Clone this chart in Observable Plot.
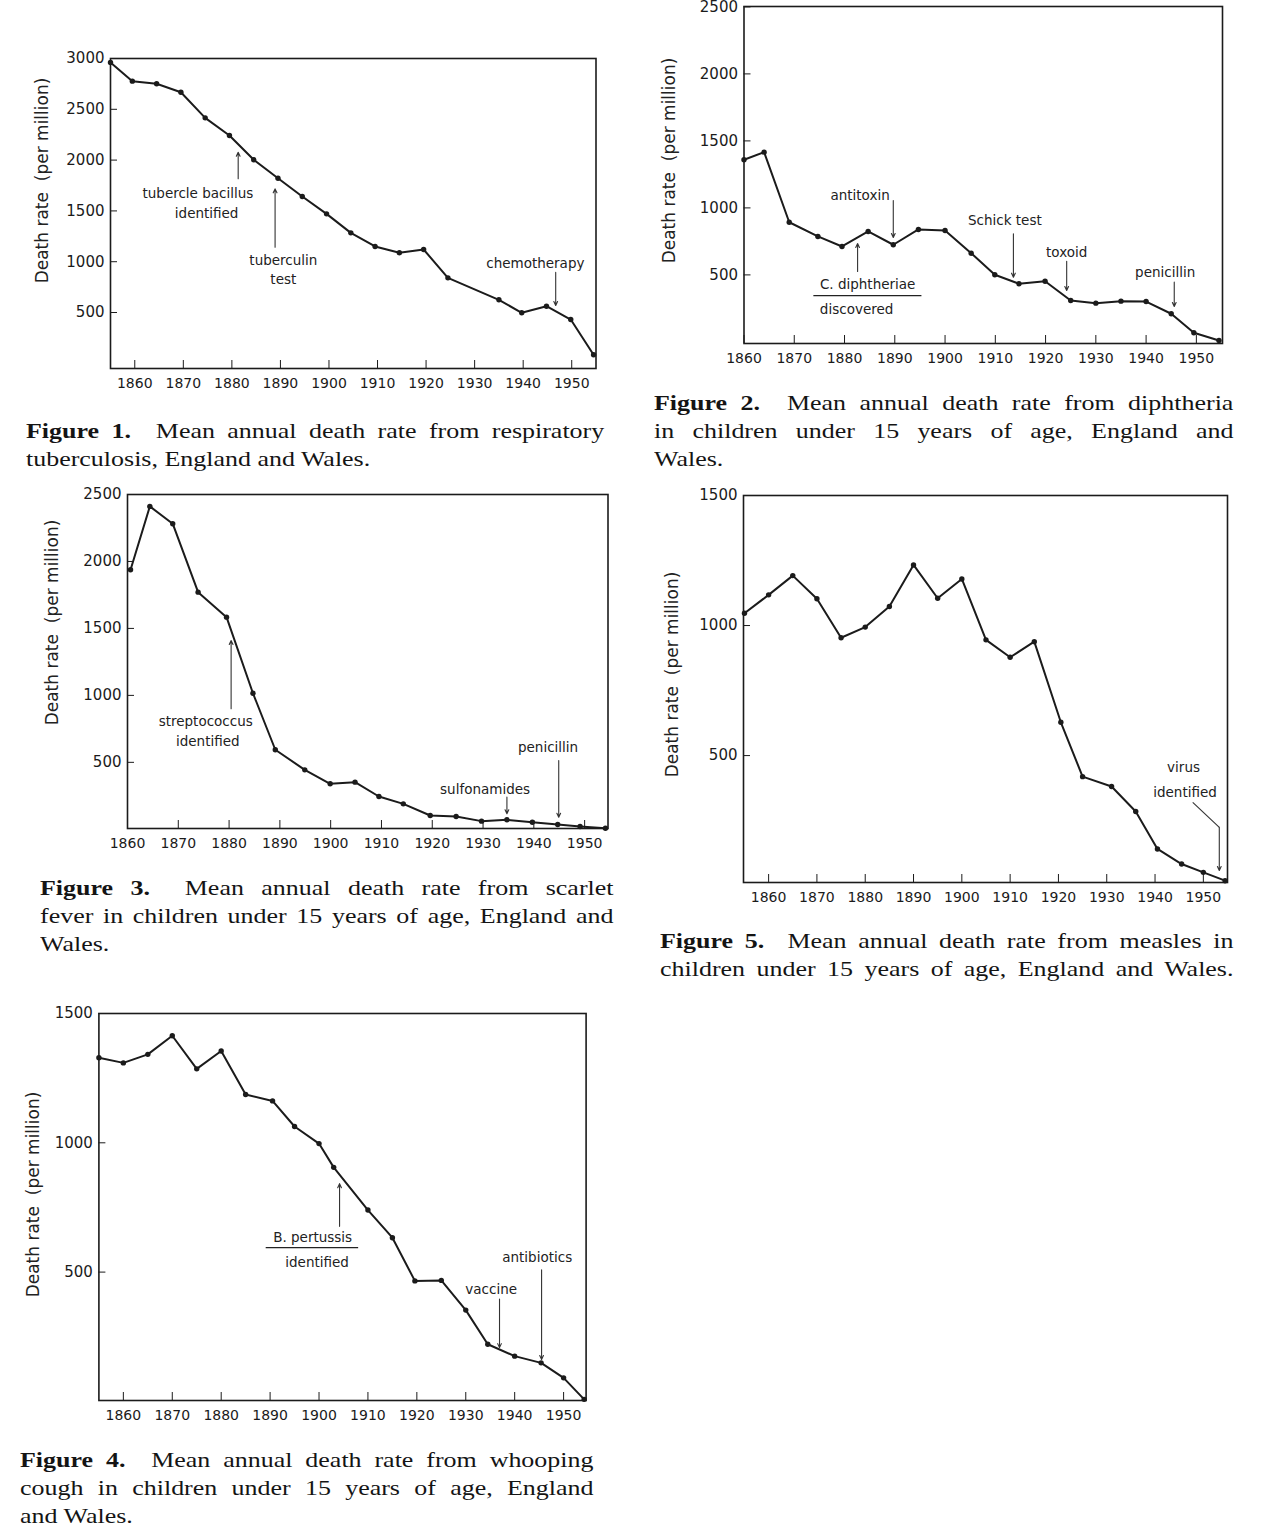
<!DOCTYPE html>
<html>
<head>
<meta charset="utf-8">
<script src="https://cdn.jsdelivr.net/npm/d3@7"></script>
<script src="https://cdn.jsdelivr.net/npm/@observablehq/plot@0.6"></script>
<style>
  html, body { margin: 0; padding: 0; background: #fff; }
  body { position: relative; width: 1266px; height: 1534px; overflow: hidden; }
  .cap { position: absolute; font-family: "Liberation Serif", "Times New Roman", serif; font-size: 22px; line-height: 28px; color: #141414; transform: scaleX(1.18); transform-origin: 0 0; }
  .cap .j { text-align: justify; text-align-last: justify; }
  .cap b { font-weight: bold; }
</style>
</head>
<body>
<div class="cap" style="left:26px;top:417px;width:490px">
  <div class="j"><b>Figure 1.</b>&nbsp; Mean annual death rate from respiratory</div>
  <div>tuberculosis, England and Wales.</div>
</div>
<div class="cap" style="left:654px;top:389px;width:491px">
  <div class="j"><b>Figure 2.</b>&nbsp; Mean annual death rate from diphtheria</div>
  <div class="j">in children under 15 years of age, England and</div>
  <div>Wales.</div>
</div>
<div class="cap" style="left:40px;top:874px;width:486px">
  <div class="j"><b>Figure 3.</b>&nbsp; Mean annual death rate from scarlet</div>
  <div class="j">fever in children under 15 years of age, England and</div>
  <div>Wales.</div>
</div>
<div class="cap" style="left:660px;top:927px;width:486px">
  <div class="j"><b>Figure 5.</b>&nbsp; Mean annual death rate from measles in</div>
  <div class="j">children under 15 years of age, England and Wales.</div>
</div>
<div class="cap" style="left:20px;top:1446px;width:486px">
  <div class="j"><b>Figure 4.</b>&nbsp; Mean annual death rate from whooping</div>
  <div class="j">cough in children under 15 years of age, England</div>
  <div>and Wales.</div>
</div>

<script>
// ---------- shared ----------
const tickYears = [1860, 1870, 1880, 1890, 1900, 1910, 1920, 1930, 1940, 1950];
const yLabelText = "Death rate\u00a0\u00a0(per million)";

// ---------- Figure 1: respiratory tuberculosis ----------
const tbYears = [1855, 1859.5, 1864.5, 1869.5, 1874.5, 1879.5, 1884.5, 1889.5, 1894.5, 1899.5, 1904.5, 1909.5, 1914.5, 1919.5, 1924.5, 1935, 1939.7, 1944.8, 1949.8, 1954.5];
const tbRates = [2961, 2777, 2751, 2668, 2416, 2242, 2003, 1822, 1642, 1471, 1284, 1150, 1088, 1120, 841, 625, 497, 562, 431, 84];
const tbYTicks = [500, 1000, 1500, 2000, 2500, 3000];
const tbNotes = [
  {x: 1873.0, y: 1668, text: "tubercle bacillus"},
  {x: 1874.8, y: 1471, text: "identified"},
  {x: 1890.6, y: 1012, text: "tuberculin"},
  {x: 1890.6, y: 822, text: "test"},
  {x: 1942.5, y: 979, text: "chemotherapy"}
];
const tbArrows = [
  {x1: 1881.3, y1: 1816, x2: 1881.3, y2: 2078},
  {x1: 1888.9, y1: 1143, x2: 1888.9, y2: 1717},
  {x1: 1946.7, y1: 895, x2: 1946.7, y2: 569}
];

// ---------- Figure 2: diphtheria ----------
const diYears = [1860, 1864, 1869, 1874.7, 1879.5, 1884.7, 1889.7, 1894.7, 1900, 1905.2, 1909.9, 1914.7, 1919.9, 1925, 1930, 1935, 1940, 1945, 1949.5, 1954.5];
const diRates = [1359, 1416, 893, 787, 712, 824, 725, 839, 831, 662, 501, 434, 453, 309, 289, 304, 301, 210, 68, 10];
const diYTicks = [500, 1000, 1500, 2000, 2500];
const diNotes = [
  {x: 1883.1, y: 1093, text: "antitoxin"},
  {x: 1884.6, y: 428, text: "C. diphtheriae"},
  {x: 1882.4, y: 242, text: "discovered"},
  {x: 1911.9, y: 901, text: "Schick test"},
  {x: 1924.2, y: 669, text: "toxoid"},
  {x: 1943.8, y: 520, text: "penicillin"}
];
const diArrows = [
  {x1: 1889.7, y1: 1055, x2: 1889.7, y2: 779},
  {x1: 1882.6, y1: 525, x2: 1882.6, y2: 734},
  {x1: 1913.6, y1: 807, x2: 1913.6, y2: 483},
  {x1: 1924.2, y1: 602, x2: 1924.2, y2: 384},
  {x1: 1945.6, y1: 446, x2: 1945.6, y2: 264}
];
const diUnder = [{x1: 1873.9, x2: 1895.4, y: 346}];

// ---------- Figure 3: scarlet fever ----------
const scYears = [1860.6, 1864.4, 1868.9, 1873.9, 1879.5, 1884.7, 1889.1, 1894.9, 1899.9, 1904.8, 1909.5, 1914.3, 1919.6, 1924.7, 1929.7, 1934.7, 1939.7, 1944.7, 1949.1, 1954.1];
const scRates = [1938, 2411, 2282, 1771, 1584, 1016, 594, 444, 340, 352, 245, 190, 103, 96, 61, 71, 53, 36, 21, 8];
const scYTicks = [500, 1000, 1500, 2000, 2500];
const scNotes = [
  {x: 1875.4, y: 807, text: "streptococcus"},
  {x: 1875.8, y: 651, text: "identified"},
  {x: 1930.4, y: 295, text: "sulfonamides"},
  {x: 1942.8, y: 613, text: "penicillin"}
];
const scArrows = [
  {x1: 1880.4, y1: 900, x2: 1880.4, y2: 1410},
  {x1: 1934.7, y1: 240, x2: 1934.7, y2: 116},
  {x1: 1944.9, y1: 514, x2: 1944.9, y2: 90}
];

// ---------- Figure 5: measles ----------
const meYears = [1855, 1860, 1865, 1870, 1875, 1880, 1885, 1890, 1895, 1900, 1905, 1910, 1915, 1920.5, 1925, 1931, 1936, 1940.5, 1945.5, 1950, 1954.5];
const meRates = [1047, 1118, 1192, 1103, 953, 994, 1073, 1233, 1105, 1179, 945, 878, 938, 628, 419, 381, 285, 141, 83, 51, 19];
const meYTicks = [500, 1000, 1500];
const meNotes = [
  {x: 1945.9, y: 455, text: "virus"},
  {x: 1946.2, y: 359, text: "identified"}
];
const meLinks = [{x1: 1947.8, y1: 320, x2: 1953.3, y2: 224}];
const meArrows = [{x1: 1953.3, y1: 224, x2: 1953.3, y2: 58}];

// ---------- Figure 4: whooping cough ----------
const whYears = [1855, 1860, 1865, 1870, 1875, 1880, 1885, 1890.5, 1895, 1900, 1903, 1910, 1915, 1919.6, 1925, 1930, 1934.5, 1940, 1945.4, 1950, 1954.2];
const whRates = [1329, 1309, 1342, 1414, 1286, 1355, 1187, 1162, 1063, 997, 905, 740, 633, 466, 468, 353, 221, 175, 149, 91, 8];
const whYTicks = [500, 1000, 1500];
const whNotes = [
  {x: 1898.7, y: 633, text: "B. pertussis"},
  {x: 1899.6, y: 538, text: "identified"},
  {x: 1935.2, y: 431, text: "vaccine"},
  {x: 1944.6, y: 557, text: "antibiotics"}
];
const whArrows = [
  {x1: 1904.2, y1: 677, x2: 1904.2, y2: 842},
  {x1: 1936.9, y1: 396, x2: 1936.9, y2: 208},
  {x1: 1945.5, y1: 509, x2: 1945.5, y2: 162}
];
const whUnder = [{x1: 1889.2, x2: 1908.1, y: 595}];

// ---------- drawing ----------
const INK = "#1b1b1b";
function drawPanel(cfg) {
  const data = cfg.years.map((x, i) => ({x, y: cfg.rates[i]}));
  const [bx, by, bw, bh] = cfg.box;
  const [fl, fr, ft, fb] = cfg.frame;
  const marks = [
    Plot.frame({stroke: INK, strokeWidth: 1.6}),
    Plot.axisX({ticks: tickYears, tickFormat: d => String(d), tickSize: -8, tickPadding: 18, label: null, fontSize: 14, stroke: INK, fill: INK}),
    Plot.axisY({ticks: cfg.yTicks, tickFormat: d => String(d), tickSize: -7, tickPadding: 13, label: null, fontSize: 15, stroke: INK, fill: INK}),
    Plot.line(data, {x: "x", y: "y", stroke: INK, strokeWidth: 2, strokeLinejoin: "round"}),
    Plot.dot(data, {x: "x", y: "y", r: 2.7, fill: INK, stroke: "none"}),
    Plot.text(cfg.notes, {x: "x", y: "y", text: "text", fontSize: 13.5, fill: "#222", textAnchor: "middle", lineAnchor: "middle"}),
    Plot.arrow(cfg.arrows, {x1: "x1", y1: "y1", x2: "x2", y2: "y2", stroke: "#333", strokeWidth: 1.1, headLength: 6, headAngle: 50}),
    Plot.text([yLabelText], {frameAnchor: "left", dx: cfg.ylab[0], dy: cfg.ylab[1], rotate: -90, fontSize: 17, fill: "#222", textAnchor: "middle", lineAnchor: "middle", ariaLabel: "ylabel"})
  ];
  if (cfg.under) marks.push(Plot.ruleY(cfg.under, {y: "y", x1: "x1", x2: "x2", stroke: "#222", strokeWidth: 1.2}));
  if (cfg.links) marks.push(Plot.link(cfg.links, {x1: "x1", y1: "y1", x2: "x2", y2: "y2", stroke: "#333", strokeWidth: 1.1}));
  const plot = Plot.plot({
    width: bw, height: bh,
    marginLeft: fl - bx, marginRight: bx + bw - fr,
    marginTop: ft - by, marginBottom: by + bh - fb,
    x: {domain: cfg.xDomain},
    y: {domain: cfg.yDomain},
    style: {fontFamily: "'DejaVu Sans', sans-serif", background: "transparent", overflow: "visible", color: INK},
    marks
  });
  d3.select(plot).selectAll('g[aria-label="ylabel"] text').style("letter-spacing", "1px");
  const div = document.createElement("div");
  div.style.cssText = `position:absolute;left:${bx}px;top:${by}px;`;
  div.appendChild(plot);
  document.body.appendChild(div);
}

drawPanel({years: tbYears, rates: tbRates, yTicks: tbYTicks, notes: tbNotes, arrows: tbArrows,
  box: [0, 30, 620, 390], frame: [110, 595.5, 58, 368], xDomain: [1855, 1955], yDomain: [-51, 3000], ylab: [-68, -33]});
drawPanel({years: diYears, rates: diRates, yTicks: diYTicks, notes: diNotes, arrows: diArrows, under: diUnder,
  box: [640, -10, 600, 390], frame: [743.5, 1222, 6, 343], xDomain: [1860, 1955.2], yDomain: [-12, 2503], ylab: [-74.5, -14.5]});
drawPanel({years: scYears, rates: scRates, yTicks: scYTicks, notes: scNotes, arrows: scArrows,
  box: [10, 470, 620, 400], frame: [127, 607.5, 494, 828], xDomain: [1860, 1954.6], yDomain: [6, 2500], ylab: [-75, -39]});
drawPanel({years: meYears, rates: meRates, yTicks: meYTicks, notes: meNotes, arrows: meArrows, links: meLinks,
  box: [640, 470, 610, 440], frame: [743, 1227, 495, 882], xDomain: [1854.8, 1955], yDomain: [12, 1500], ylab: [-71, -14.5]});
drawPanel({years: whYears, rates: whRates, yTicks: whYTicks, notes: whNotes, arrows: whArrows, under: whUnder,
  box: [0, 990, 610, 440], frame: [98.4, 585.6, 1013, 1400], xDomain: [1855, 1954.6], yDomain: [3.5, 1500], ylab: [-65.4, -12.5]});
</script>
</body>
</html>
